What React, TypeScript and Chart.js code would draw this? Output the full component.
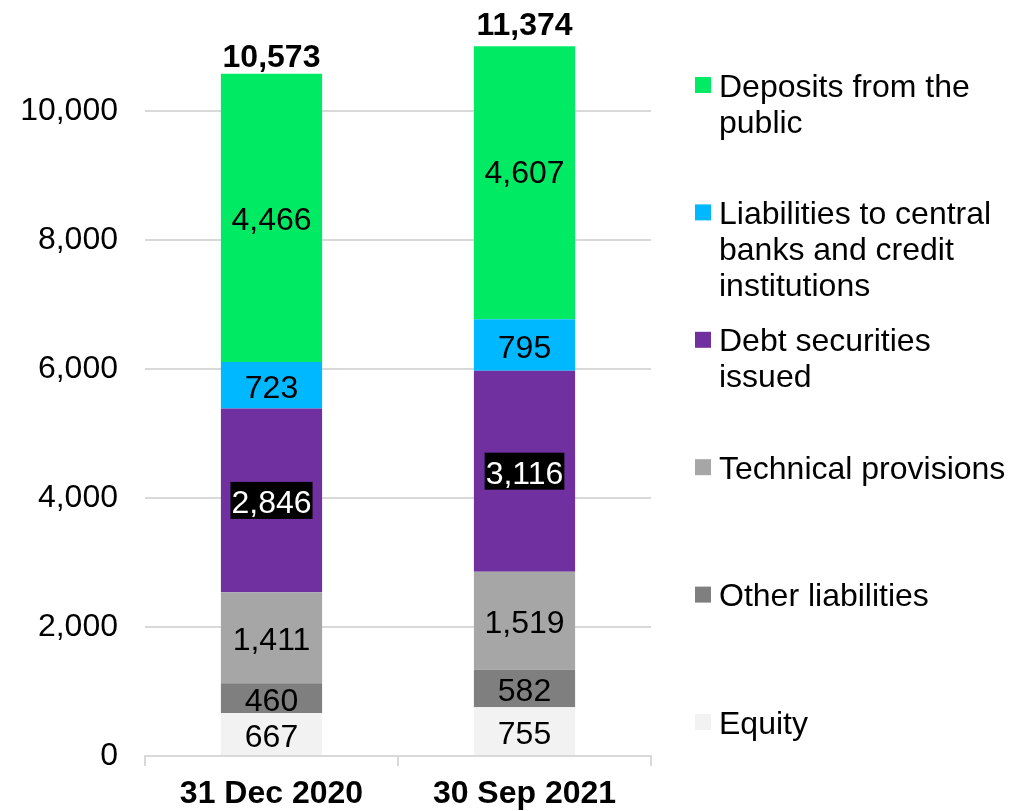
import React, { useEffect, useRef } from "react";
import { Chart, registerables } from "chart.js";

Chart.register(...registerables);

const categories = ["31 Dec 2020", "30 Sep 2021"];
const seriesNames = [
  "Equity",
  "Other liabilities",
  "Technical provisions",
  "Debt securities issued",
  "Liabilities to central banks and credit institutions",
  "Deposits from the public",
];
const equity = [667, 755];
const otherLiabilities = [460, 582];
const technicalProvisions = [1411, 1519];
const debtSecurities = [2846, 3116];
const liabilitiesCentral = [723, 795];
const deposits = [4466, 4607];
const seriesColors = ["#F2F2F2", "#7F7F7F", "#A6A6A6", "#7030A0", "#00B8FF", "#00EA64"];
const yMin = 0;
const yMax = 11000;
const yTickValues = [0, 2000, 4000, 6000, 8000, 10000];

const FONT = "'Liberation Sans', Arial, sans-serif";
const FS = 32;

const fmt = (v: number) => v.toLocaleString("en-US");

const labelsPlugin = {
  id: "segLabels",
  afterDatasetsDraw(chart: any) {
    const ctx = chart.ctx;
    ctx.save();
    ctx.font = `${FS}px ${FONT}`;
    ctx.textAlign = "center";
    ctx.textBaseline = "alphabetic";
    chart.data.datasets.forEach((ds: any, di: number) => {
      const meta = chart.getDatasetMeta(di);
      meta.data.forEach((bar: any, i: number) => {
        const v = ds.data[i];
        const txt = fmt(v);
        const cy = (bar.y + bar.base) / 2;
        const w = ctx.measureText(txt).width;
        if (ds.inverseLabel) {
          ctx.fillStyle = "#000";
          ctx.fillRect(bar.x - w / 2 - 1, cy - 18.5, w + 2, 37);
          ctx.fillStyle = "#fff";
        } else {
          ctx.fillStyle = "#000";
        }
        ctx.fillText(txt, bar.x, cy + FS * 0.36 + 1);
      });
    });
    ctx.restore();
  },
  afterDraw(chart: any) {
    const ctx = chart.ctx;
    const yScale = chart.scales.y;
    ctx.save();
    // totals
    ctx.font = `bold ${FS}px ${FONT}`;
    ctx.textAlign = "center";
    ctx.fillStyle = "#000";
    const meta0 = chart.getDatasetMeta(0);
    categories.forEach((_, i) => {
      let total = 0;
      chart.data.datasets.forEach((ds: any) => (total += ds.data[i]));
      const x = meta0.data[i].x;
      const cy = Math.max(yScale.getPixelForValue(total) - 18, 23);
      ctx.fillText(fmt(total), x, cy + FS * 0.36);
    });
    // legend
    ctx.font = `${FS}px ${FONT}`;
    ctx.textAlign = "left";
    const ds = chart.data.datasets.slice().reverse();
    const top = 85;
    const step = 127.4;
    const maxW = 300;
    const textX = 719;
    ds.forEach((d: any, k: number) => {
      const cy = top + k * step;
      ctx.fillStyle = d.backgroundColor;
      ctx.fillRect(695, cy - 8, 16, 16);
      const words = String(d.label).split(" ");
      const lines: string[] = [];
      let cur = "";
      words.forEach((w) => {
        const t = cur ? cur + " " + w : w;
        if (ctx.measureText(t).width > maxW && cur) {
          lines.push(cur);
          cur = w;
        } else cur = t;
      });
      if (cur) lines.push(cur);
      ctx.fillStyle = "#000";
      lines.forEach((ln, li) => {
        ctx.fillText(ln, textX, cy + li * 36 + FS * 0.36);
      });
    });
    ctx.restore();
  },
};

export default function App() {
  const ref = useRef<HTMLCanvasElement | null>(null);
  useEffect(() => {
    if (!ref.current) return;
    Chart.defaults.font.family = FONT;
    const values = [equity, otherLiabilities, technicalProvisions, debtSecurities, liabilitiesCentral, deposits];
    const chart = new Chart(ref.current, {
      type: "bar",
      data: {
        labels: categories,
        datasets: values.map((vals, i) => ({
          label: seriesNames[i],
          data: vals,
          backgroundColor: seriesColors[i],
          borderWidth: 0,
          categoryPercentage: 1,
          barPercentage: 0.4,
          inverseLabel: i === 3,
        })) as any,
      },
      options: {
        responsive: false,
        animation: false,
        layout: { padding: { top: 46, right: 372, left: 0, bottom: 0 } },
        plugins: { legend: { display: false }, tooltip: { enabled: false } },
        scales: {
          x: {
            stacked: true,
            grid: { drawOnChartArea: false, tickLength: 10, color: "#d9d9d9", lineWidth: 2, offset: true },
            border: { display: true, color: "#d9d9d9", width: 2 },
            ticks: { color: "#000", font: { size: FS, weight: "bold" }, padding: 9 },
            afterFit: (s: any) => {
              s.height = 55;
            },
          },
          y: {
            stacked: true,
            min: yMin,
            max: yMax,
            grid: { color: "#d9d9d9", lineWidth: 2, drawTicks: false },
            border: { display: false },
            afterBuildTicks: (s: any) => {
              s.ticks = yTickValues.map((v) => ({ value: v }));
            },
            ticks: {
              color: "#000",
              padding: 27,
              font: { size: FS },
              callback: (v: any) => fmt(Number(v)),
            },
            afterFit: (s: any) => {
              s.width = 145;
            },
          },
        },
      },
      plugins: [labelsPlugin],
    });
    return () => chart.destroy();
  }, []);
  return (
    <div style={{ position: "fixed", left: 0, top: 0, width: 1023, height: 811, background: "#fff" }}>
      <canvas ref={ref} width={1023} height={811} />
    </div>
  );
}
